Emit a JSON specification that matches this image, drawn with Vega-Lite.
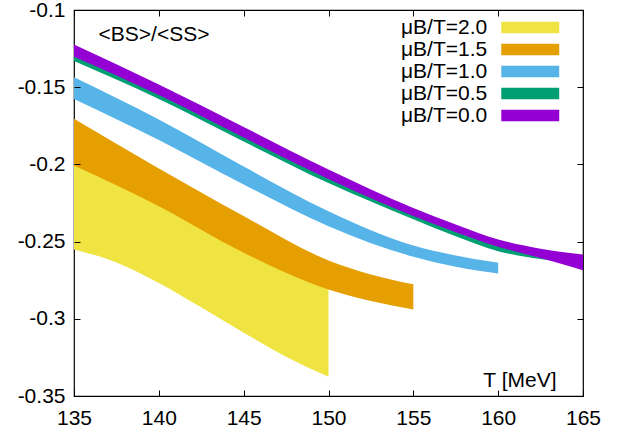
{
  "$schema": "https://vega.github.io/schema/vega-lite/v6.json",
  "width": 509,
  "height": 386,
  "autosize": {"type": "none"},
  "padding": {"left": 74, "top": 10, "right": 45, "bottom": 38},
  "background": "white",
  "config": {
    "view": {"stroke": "black", "strokeWidth": 1.2},
    "font": "Liberation Sans",
    "axis": {
      "labelFont": "Liberation Sans",
      "labelFontSize": 21,
      "labelColor": "black",
      "titleFont": "Liberation Sans",
      "titleFontSize": 21,
      "titleFontWeight": "normal",
      "titleColor": "black"
    },
    "legend": {
      "labelFont": "Liberation Sans",
      "labelFontSize": 21,
      "labelColor": "black"
    }
  },
  "datasets": {
    "bands": [
      {"mu": "μB/T=2.0", "T": 135, "lo": -0.2551, "hi": -0.1967},
      {"mu": "μB/T=2.0", "T": 137.5, "lo": -0.2635, "hi": -0.2074},
      {"mu": "μB/T=2.0", "T": 140, "lo": -0.2768, "hi": -0.2231},
      {"mu": "μB/T=2.0", "T": 142.5, "lo": -0.2926, "hi": -0.2382},
      {"mu": "μB/T=2.0", "T": 145, "lo": -0.3090, "hi": -0.2532},
      {"mu": "μB/T=2.0", "T": 147.5, "lo": -0.3245, "hi": -0.2657},
      {"mu": "μB/T=2.0", "T": 150, "lo": -0.3375, "hi": -0.2770},
      {"mu": "μB/T=1.5", "T": 135, "lo": -0.2007, "hi": -0.1705},
      {"mu": "μB/T=1.5", "T": 140, "lo": -0.2271, "hi": -0.2027},
      {"mu": "μB/T=1.5", "T": 145, "lo": -0.2572, "hi": -0.2335},
      {"mu": "μB/T=1.5", "T": 150, "lo": -0.2810, "hi": -0.2622},
      {"mu": "μB/T=1.5", "T": 152.5, "lo": -0.2885, "hi": -0.2713},
      {"mu": "μB/T=1.5", "T": 155, "lo": -0.2939, "hi": -0.2777},
      {"mu": "μB/T=1.0", "T": 135, "lo": -0.1577, "hi": -0.1436},
      {"mu": "μB/T=1.0", "T": 140, "lo": -0.1842, "hi": -0.1710},
      {"mu": "μB/T=1.0", "T": 145, "lo": -0.2130, "hi": -0.2014},
      {"mu": "μB/T=1.0", "T": 150, "lo": -0.2400, "hi": -0.2303},
      {"mu": "μB/T=1.0", "T": 155, "lo": -0.2598, "hi": -0.2525},
      {"mu": "μB/T=1.0", "T": 157.5, "lo": -0.2663, "hi": -0.2590},
      {"mu": "μB/T=1.0", "T": 160, "lo": -0.2706, "hi": -0.2637},
      {"mu": "μB/T=0.5", "T": 135, "lo": -0.1331, "hi": -0.1244},
      {"mu": "μB/T=0.5", "T": 140, "lo": -0.1577, "hi": -0.1503},
      {"mu": "μB/T=0.5", "T": 145, "lo": -0.1852, "hi": -0.1778},
      {"mu": "μB/T=0.5", "T": 150, "lo": -0.2121, "hi": -0.2053},
      {"mu": "μB/T=0.5", "T": 155, "lo": -0.2355, "hi": -0.2300},
      {"mu": "μB/T=0.5", "T": 157.5, "lo": -0.2465, "hi": -0.2409},
      {"mu": "μB/T=0.5", "T": 160, "lo": -0.2562, "hi": -0.2506},
      {"mu": "μB/T=0.5", "T": 162.5, "lo": -0.2613, "hi": -0.2566},
      {"mu": "μB/T=0.5", "T": 165, "lo": -0.2648, "hi": -0.2603},
      {"mu": "μB/T=0.0", "T": 135, "lo": -0.1302, "hi": -0.1224},
      {"mu": "μB/T=0.0", "T": 140, "lo": -0.1551, "hi": -0.1483},
      {"mu": "μB/T=0.0", "T": 145, "lo": -0.1826, "hi": -0.1758},
      {"mu": "μB/T=0.0", "T": 150, "lo": -0.2095, "hi": -0.2033},
      {"mu": "μB/T=0.0", "T": 155, "lo": -0.2335, "hi": -0.2282},
      {"mu": "μB/T=0.0", "T": 157.5, "lo": -0.2439, "hi": -0.2389},
      {"mu": "μB/T=0.0", "T": 160, "lo": -0.2533, "hi": -0.2486},
      {"mu": "μB/T=0.0", "T": 162.5, "lo": -0.2607, "hi": -0.2546},
      {"mu": "μB/T=0.0", "T": 165, "lo": -0.2685, "hi": -0.2583}
    ]
  },
  "data": {"name": "bands"},
  "encoding": {
    "color": {
      "field": "mu",
      "type": "nominal",
      "scale": {
        "domain": ["μB/T=2.0", "μB/T=1.5", "μB/T=1.0", "μB/T=0.5", "μB/T=0.0"],
        "range": ["#f0e442", "#e69f00", "#56b4e9", "#009e73", "#9400d3"]
      },
      "legend": {
        "orient": "none",
        "legendX": 445.75,
        "legendY": 7,
        "title": null,
        "padding": 0,
        "symbolType": "M-4,-0.8H4V0.8H-4Z",
        "symbolSize": 210,
        "symbolStrokeWidth": 0,
        "symbolOpacity": 1,
        "labelAlign": "right",
        "labelOffset": -53.5,
        "rowPadding": 0
      }
    }
  },
  "layer": [
    {
      "transform": [{"filter": "datum.mu === 'μB/T=2.0'"}],
      "mark": {"type": "area", "interpolate": "monotone", "opacity": 1},
      "encoding": {
        "x": {
          "field": "T", "type": "quantitative",
          "scale": {"domain": [135, 165], "nice": false, "zero": false},
          "axis": {
            "orient": "bottom",
            "domain": false,
            "ticks": false,
            "grid": true,
            "gridColor": "black",
            "gridWidth": 1,
            "gridDash": [6, 2000],
            "zindex": 1,
            "values": [135, 140, 145, 150, 155, 160, 165],
            "format": "d",
            "labelPadding": 11,
            "labelFlush": false,
            "title": "T [MeV]",
            "titleX": 482,
            "titleY": -10,
            "titleAlign": "right",
            "titleBaseline": "alphabetic",
            "titleAnchor": null
          }
        },
        "y": {
          "field": "lo", "type": "quantitative",
          "scale": {"domain": [-0.35, -0.1], "nice": false, "zero": false},
          "axis": {
            "orient": "left",
            "domain": false,
            "ticks": false,
            "grid": true,
            "gridColor": "black",
            "gridWidth": 1,
            "gridDash": [6, 2000],
            "zindex": 1,
            "values": [-0.35, -0.3, -0.25, -0.2, -0.15, -0.1],
            "labelExpr": "'-' + format(-datum.value, '.2~f')",
            "labelPadding": 9,
            "labelFlush": false,
            "title": "<BS>/<SS>",
            "titleAngle": 0,
            "titleX": 24,
            "titleY": 30,
            "titleAlign": "left",
            "titleBaseline": "alphabetic"
          }
        },
        "y2": {"field": "hi"}
      }
    },
    {
      "transform": [{"filter": "datum.mu === 'μB/T=1.5'"}],
      "mark": {"type": "area", "interpolate": "monotone", "opacity": 1},
      "encoding": {
        "x": {"field": "T", "type": "quantitative", "scale": {"domain": [135, 165], "nice": false, "zero": false}, "axis": null},
        "y": {"field": "lo", "type": "quantitative", "scale": {"domain": [-0.35, -0.1], "nice": false, "zero": false}, "axis": null},
        "y2": {"field": "hi"}
      }
    },
    {
      "transform": [{"filter": "datum.mu === 'μB/T=1.0'"}],
      "mark": {"type": "area", "interpolate": "monotone", "opacity": 1},
      "encoding": {
        "x": {"field": "T", "type": "quantitative", "scale": {"domain": [135, 165], "nice": false, "zero": false}, "axis": null},
        "y": {"field": "lo", "type": "quantitative", "scale": {"domain": [-0.35, -0.1], "nice": false, "zero": false}, "axis": null},
        "y2": {"field": "hi"}
      }
    },
    {
      "transform": [{"filter": "datum.mu === 'μB/T=0.5'"}],
      "mark": {"type": "area", "interpolate": "monotone", "opacity": 1},
      "encoding": {
        "x": {"field": "T", "type": "quantitative", "scale": {"domain": [135, 165], "nice": false, "zero": false}, "axis": null},
        "y": {"field": "lo", "type": "quantitative", "scale": {"domain": [-0.35, -0.1], "nice": false, "zero": false}, "axis": null},
        "y2": {"field": "hi"}
      }
    },
    {
      "transform": [{"filter": "datum.mu === 'μB/T=0.0'"}],
      "mark": {"type": "area", "interpolate": "monotone", "opacity": 1},
      "encoding": {
        "x": {"field": "T", "type": "quantitative", "scale": {"domain": [135, 165], "nice": false, "zero": false}, "axis": null},
        "y": {"field": "lo", "type": "quantitative", "scale": {"domain": [-0.35, -0.1], "nice": false, "zero": false}, "axis": null},
        "y2": {"field": "hi"}
      }
    },
    {
      "transform": [{"filter": "datum.mu === 'μB/T=0.0'"}],
      "mark": {"type": "point", "opacity": 0},
      "encoding": {
        "color": {"value": "transparent"},
        "x": {
          "field": "T", "type": "quantitative",
          "scale": {"domain": [135, 165], "nice": false, "zero": false},
          "axis": {"orient": "top", "domain": false, "ticks": false, "grid": true, "gridColor": "black", "gridWidth": 1, "gridDash": [6, 2000], "zindex": 1, "values": [135, 140, 145, 150, 155, 160, 165], "labels": false, "title": null}
        },
        "y": {
          "field": "lo", "type": "quantitative",
          "scale": {"domain": [-0.35, -0.1], "nice": false, "zero": false},
          "axis": {"orient": "right", "domain": false, "ticks": false, "grid": true, "gridColor": "black", "gridWidth": 1, "gridDash": [6, 2000], "zindex": 1, "values": [-0.35, -0.3, -0.25, -0.2, -0.15, -0.1], "labels": false, "title": null}
        }
      }
    }
  ],
  "resolve": {"axis": {"x": "independent", "y": "independent"}}
}
